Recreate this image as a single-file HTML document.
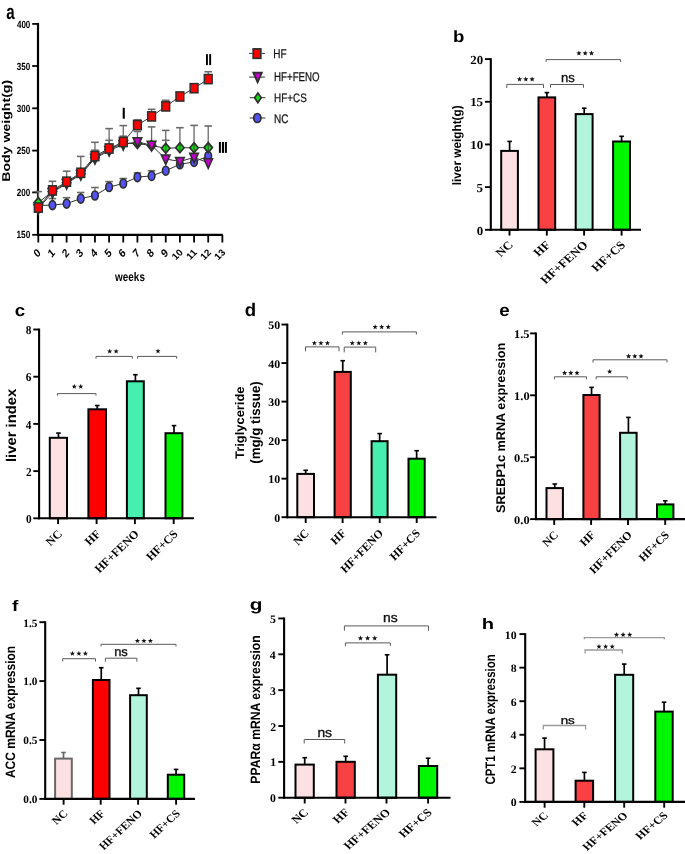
<!DOCTYPE html>
<html><head><meta charset="utf-8"><style>
html,body{margin:0;padding:0;background:#fff;width:685px;height:854px;overflow:hidden;}
svg{display:block;will-change:transform;} text{text-rendering:geometricPrecision;}
</style></head><body>
<svg width="685" height="854" viewBox="0 0 685 854">
<rect width="685" height="854" fill="#fff"/>
<line x1="38" y1="22.9" x2="38" y2="235.8" stroke="#000" stroke-width="2.2"/>
<line x1="37" y1="234.8" x2="222.8" y2="234.8" stroke="#000" stroke-width="2.2"/>
<line x1="32.2" y1="23.9" x2="38" y2="23.9" stroke="#000" stroke-width="1.8"/>
<text transform="translate(16.93 27.5) scale(0.7717 1)" font-family="Liberation Sans" font-size="10.423" font-weight="bold" text-anchor="start" fill="#000">400</text>
<line x1="32.2" y1="66" x2="38" y2="66" stroke="#000" stroke-width="1.8"/>
<text transform="translate(16.85 69.6) scale(0.7766 1)" font-family="Liberation Sans" font-size="10.423" font-weight="bold" text-anchor="start" fill="#000">350</text>
<line x1="32.2" y1="108.3" x2="38" y2="108.3" stroke="#000" stroke-width="1.8"/>
<text transform="translate(16.85 111.9) scale(0.7766 1)" font-family="Liberation Sans" font-size="10.423" font-weight="bold" text-anchor="start" fill="#000">300</text>
<line x1="32.2" y1="150.6" x2="38" y2="150.6" stroke="#000" stroke-width="1.8"/>
<text transform="translate(16.76 154.2) scale(0.7814 1)" font-family="Liberation Sans" font-size="10.423" font-weight="bold" text-anchor="start" fill="#000">250</text>
<line x1="32.2" y1="192.4" x2="38" y2="192.4" stroke="#000" stroke-width="1.8"/>
<text transform="translate(16.76 196) scale(0.7814 1)" font-family="Liberation Sans" font-size="10.423" font-weight="bold" text-anchor="start" fill="#000">200</text>
<line x1="32.2" y1="234.8" x2="38" y2="234.8" stroke="#000" stroke-width="1.8"/>
<text transform="translate(16.51 238.4) scale(0.7965 1)" font-family="Liberation Sans" font-size="10.423" font-weight="bold" text-anchor="start" fill="#000">150</text>
<line x1="38.3" y1="234.8" x2="38.3" y2="242.5" stroke="#000" stroke-width="1.8"/>
<line x1="52.46" y1="234.8" x2="52.46" y2="242.5" stroke="#000" stroke-width="1.8"/>
<line x1="66.62" y1="234.8" x2="66.62" y2="242.5" stroke="#000" stroke-width="1.8"/>
<line x1="80.78" y1="234.8" x2="80.78" y2="242.5" stroke="#000" stroke-width="1.8"/>
<line x1="94.94" y1="234.8" x2="94.94" y2="242.5" stroke="#000" stroke-width="1.8"/>
<line x1="109.1" y1="234.8" x2="109.1" y2="242.5" stroke="#000" stroke-width="1.8"/>
<line x1="123.26" y1="234.8" x2="123.26" y2="242.5" stroke="#000" stroke-width="1.8"/>
<line x1="137.42" y1="234.8" x2="137.42" y2="242.5" stroke="#000" stroke-width="1.8"/>
<line x1="151.58" y1="234.8" x2="151.58" y2="242.5" stroke="#000" stroke-width="1.8"/>
<line x1="165.74" y1="234.8" x2="165.74" y2="242.5" stroke="#000" stroke-width="1.8"/>
<line x1="179.9" y1="234.8" x2="179.9" y2="242.5" stroke="#000" stroke-width="1.8"/>
<line x1="194.06" y1="234.8" x2="194.06" y2="242.5" stroke="#000" stroke-width="1.8"/>
<line x1="208.22" y1="234.8" x2="208.22" y2="242.5" stroke="#000" stroke-width="1.8"/>
<line x1="222.38" y1="234.8" x2="222.38" y2="242.5" stroke="#000" stroke-width="1.8"/>
<text transform="translate(41.41 253.58) scale(0.8158 1) rotate(-45)" font-family="Liberation Sans" font-size="11.942" font-weight="bold" text-anchor="end" fill="#000">0</text>
<text transform="translate(55.57 253.58) scale(0.8158 1) rotate(-45)" font-family="Liberation Sans" font-size="11.942" font-weight="bold" text-anchor="end" fill="#000">1</text>
<text transform="translate(69.73 253.58) scale(0.8158 1) rotate(-45)" font-family="Liberation Sans" font-size="11.942" font-weight="bold" text-anchor="end" fill="#000">2</text>
<text transform="translate(83.89 253.58) scale(0.8158 1) rotate(-45)" font-family="Liberation Sans" font-size="11.942" font-weight="bold" text-anchor="end" fill="#000">3</text>
<text transform="translate(98.05 253.58) scale(0.8158 1) rotate(-45)" font-family="Liberation Sans" font-size="11.942" font-weight="bold" text-anchor="end" fill="#000">4</text>
<text transform="translate(112.21 253.58) scale(0.8158 1) rotate(-45)" font-family="Liberation Sans" font-size="11.942" font-weight="bold" text-anchor="end" fill="#000">5</text>
<text transform="translate(126.37 253.58) scale(0.8158 1) rotate(-45)" font-family="Liberation Sans" font-size="11.942" font-weight="bold" text-anchor="end" fill="#000">6</text>
<text transform="translate(140.53 253.58) scale(0.8158 1) rotate(-45)" font-family="Liberation Sans" font-size="11.942" font-weight="bold" text-anchor="end" fill="#000">7</text>
<text transform="translate(154.69 253.58) scale(0.8158 1) rotate(-45)" font-family="Liberation Sans" font-size="11.942" font-weight="bold" text-anchor="end" fill="#000">8</text>
<text transform="translate(168.85 253.58) scale(0.8158 1) rotate(-45)" font-family="Liberation Sans" font-size="11.942" font-weight="bold" text-anchor="end" fill="#000">9</text>
<text transform="translate(183.53 253.15) scale(1.0417 1) rotate(-45)" font-family="Liberation Sans" font-size="9.428" font-weight="bold" text-anchor="end" fill="#000">10</text>
<text transform="translate(197.69 253.15) scale(1.0417 1) rotate(-45)" font-family="Liberation Sans" font-size="9.428" font-weight="bold" text-anchor="end" fill="#000">11</text>
<text transform="translate(211.85 253.15) scale(1.0417 1) rotate(-45)" font-family="Liberation Sans" font-size="9.428" font-weight="bold" text-anchor="end" fill="#000">12</text>
<text transform="translate(226.01 253.15) scale(1.0417 1) rotate(-45)" font-family="Liberation Sans" font-size="9.428" font-weight="bold" text-anchor="end" fill="#000">13</text>
<text transform="translate(115.1 280.68) scale(0.8022 1)" font-family="Liberation Sans" font-size="12.381" font-weight="bold" text-anchor="start" fill="#000">weeks</text>
<text transform="translate(9.52 181.82) rotate(-90) scale(1.2468 1)" font-family="Liberation Sans" font-size="11.337" font-weight="bold" text-anchor="start" fill="#000">Body weight(g)</text>
<text transform="translate(6.15 18.59) scale(0.7179 1)" font-family="Liberation Sans" font-size="21.091" font-weight="bold" text-anchor="start" fill="#000">a</text>
<rect x="122.7" y="107.8" width="2.1" height="10.9" fill="#000"/>
<rect x="206" y="54.1" width="1.9" height="11" fill="#000"/>
<rect x="209.2" y="54.1" width="1.9" height="11" fill="#000"/>
<rect x="218.9" y="141.9" width="2" height="11" fill="#000"/>
<rect x="221.9" y="141.9" width="2.1" height="11" fill="#000"/>
<rect x="224.9" y="141.9" width="2" height="11" fill="#000"/>
<line x1="165.74" y1="148.2" x2="165.74" y2="130.4" stroke="#6a6a6a" stroke-width="1.3"/>
<line x1="161.94" y1="130.4" x2="169.54" y2="130.4" stroke="#6a6a6a" stroke-width="1.6"/>
<line x1="179.9" y1="147.8" x2="179.9" y2="127.7" stroke="#6a6a6a" stroke-width="1.3"/>
<line x1="176.1" y1="127.7" x2="183.7" y2="127.7" stroke="#6a6a6a" stroke-width="1.6"/>
<line x1="194.06" y1="147.7" x2="194.06" y2="125.4" stroke="#6a6a6a" stroke-width="1.3"/>
<line x1="190.26" y1="125.4" x2="197.86" y2="125.4" stroke="#6a6a6a" stroke-width="1.6"/>
<line x1="208.22" y1="147.6" x2="208.22" y2="126" stroke="#6a6a6a" stroke-width="1.3"/>
<line x1="204.42" y1="126" x2="212.02" y2="126" stroke="#6a6a6a" stroke-width="1.6"/>
<line x1="94.94" y1="158.5" x2="94.94" y2="150.2" stroke="#6a6a6a" stroke-width="1.3"/>
<line x1="91.14" y1="150.2" x2="98.74" y2="150.2" stroke="#6a6a6a" stroke-width="1.6"/>
<line x1="109.1" y1="150.5" x2="109.1" y2="140.3" stroke="#6a6a6a" stroke-width="1.3"/>
<line x1="105.3" y1="140.3" x2="112.9" y2="140.3" stroke="#6a6a6a" stroke-width="1.6"/>
<line x1="123.26" y1="144.5" x2="123.26" y2="136.2" stroke="#6a6a6a" stroke-width="1.3"/>
<line x1="119.46" y1="136.2" x2="127.06" y2="136.2" stroke="#6a6a6a" stroke-width="1.6"/>
<line x1="137.42" y1="141.8" x2="137.42" y2="131.5" stroke="#6a6a6a" stroke-width="1.3"/>
<line x1="133.62" y1="131.5" x2="141.22" y2="131.5" stroke="#6a6a6a" stroke-width="1.6"/>
<line x1="151.58" y1="145.3" x2="151.58" y2="126.9" stroke="#6a6a6a" stroke-width="1.3"/>
<line x1="147.78" y1="126.9" x2="155.38" y2="126.9" stroke="#6a6a6a" stroke-width="1.6"/>
<line x1="165.74" y1="159" x2="165.74" y2="140.3" stroke="#6a6a6a" stroke-width="1.3"/>
<line x1="161.94" y1="140.3" x2="169.54" y2="140.3" stroke="#6a6a6a" stroke-width="1.6"/>
<line x1="52.46" y1="205.1" x2="52.46" y2="198.6" stroke="#6a6a6a" stroke-width="1.3"/>
<line x1="48.66" y1="198.6" x2="56.26" y2="198.6" stroke="#6a6a6a" stroke-width="1.6"/>
<line x1="66.62" y1="203.6" x2="66.62" y2="197.7" stroke="#6a6a6a" stroke-width="1.3"/>
<line x1="62.82" y1="197.7" x2="70.42" y2="197.7" stroke="#6a6a6a" stroke-width="1.6"/>
<line x1="80.78" y1="198.6" x2="80.78" y2="192.5" stroke="#6a6a6a" stroke-width="1.3"/>
<line x1="76.98" y1="192.5" x2="84.58" y2="192.5" stroke="#6a6a6a" stroke-width="1.6"/>
<line x1="94.94" y1="195.5" x2="94.94" y2="187.5" stroke="#6a6a6a" stroke-width="1.3"/>
<line x1="91.14" y1="187.5" x2="98.74" y2="187.5" stroke="#6a6a6a" stroke-width="1.6"/>
<line x1="109.1" y1="187" x2="109.1" y2="181.6" stroke="#6a6a6a" stroke-width="1.3"/>
<line x1="105.3" y1="181.6" x2="112.9" y2="181.6" stroke="#6a6a6a" stroke-width="1.6"/>
<line x1="123.26" y1="183.5" x2="123.26" y2="178.5" stroke="#6a6a6a" stroke-width="1.3"/>
<line x1="119.46" y1="178.5" x2="127.06" y2="178.5" stroke="#6a6a6a" stroke-width="1.6"/>
<line x1="137.42" y1="177.1" x2="137.42" y2="173" stroke="#6a6a6a" stroke-width="1.3"/>
<line x1="133.62" y1="173" x2="141.22" y2="173" stroke="#6a6a6a" stroke-width="1.6"/>
<line x1="151.58" y1="175.9" x2="151.58" y2="170.7" stroke="#6a6a6a" stroke-width="1.3"/>
<line x1="147.78" y1="170.7" x2="155.38" y2="170.7" stroke="#6a6a6a" stroke-width="1.6"/>
<line x1="38.3" y1="207.6" x2="38.3" y2="191.6" stroke="#6a6a6a" stroke-width="1.3"/>
<line x1="34.5" y1="191.6" x2="42.1" y2="191.6" stroke="#6a6a6a" stroke-width="1.6"/>
<line x1="52.46" y1="190.4" x2="52.46" y2="181.3" stroke="#6a6a6a" stroke-width="1.3"/>
<line x1="48.66" y1="181.3" x2="56.26" y2="181.3" stroke="#6a6a6a" stroke-width="1.6"/>
<line x1="66.62" y1="181.7" x2="66.62" y2="171.2" stroke="#6a6a6a" stroke-width="1.3"/>
<line x1="62.82" y1="171.2" x2="70.42" y2="171.2" stroke="#6a6a6a" stroke-width="1.6"/>
<line x1="80.78" y1="172.8" x2="80.78" y2="156.4" stroke="#6a6a6a" stroke-width="1.3"/>
<line x1="76.98" y1="156.4" x2="84.58" y2="156.4" stroke="#6a6a6a" stroke-width="1.6"/>
<line x1="94.94" y1="156.1" x2="94.94" y2="142.3" stroke="#6a6a6a" stroke-width="1.3"/>
<line x1="91.14" y1="142.3" x2="98.74" y2="142.3" stroke="#6a6a6a" stroke-width="1.6"/>
<line x1="109.1" y1="148.5" x2="109.1" y2="128.6" stroke="#6a6a6a" stroke-width="1.3"/>
<line x1="105.3" y1="128.6" x2="112.9" y2="128.6" stroke="#6a6a6a" stroke-width="1.6"/>
<line x1="123.26" y1="142" x2="123.26" y2="125.6" stroke="#6a6a6a" stroke-width="1.3"/>
<line x1="119.46" y1="125.6" x2="127.06" y2="125.6" stroke="#6a6a6a" stroke-width="1.6"/>
<line x1="137.42" y1="125.1" x2="137.42" y2="119.9" stroke="#6a6a6a" stroke-width="1.3"/>
<line x1="133.62" y1="119.9" x2="141.22" y2="119.9" stroke="#6a6a6a" stroke-width="1.6"/>
<line x1="151.58" y1="116.4" x2="151.58" y2="109.3" stroke="#6a6a6a" stroke-width="1.3"/>
<line x1="147.78" y1="109.3" x2="155.38" y2="109.3" stroke="#6a6a6a" stroke-width="1.6"/>
<line x1="165.74" y1="106.4" x2="165.74" y2="100.3" stroke="#6a6a6a" stroke-width="1.3"/>
<line x1="161.94" y1="100.3" x2="169.54" y2="100.3" stroke="#6a6a6a" stroke-width="1.6"/>
<line x1="208.22" y1="79.1" x2="208.22" y2="71.7" stroke="#6a6a6a" stroke-width="1.3"/>
<line x1="204.42" y1="71.7" x2="212.02" y2="71.7" stroke="#6a6a6a" stroke-width="1.6"/>
<polyline points="38.3,205.5 52.46,205.1 66.62,203.6 80.78,198.6 94.94,195.5 109.1,187 123.26,183.5 137.42,177.1 151.58,175.9 165.74,170.7 179.9,164.3 194.06,161.9 208.22,156" fill="none" stroke="#333" stroke-width="1"/>
<ellipse cx="38.3" cy="205.5" rx="3.3" ry="4.5" fill="#5252f5" stroke="#2e2e2e" stroke-width="1.6"/>
<ellipse cx="52.46" cy="205.1" rx="3.3" ry="4.5" fill="#5252f5" stroke="#2e2e2e" stroke-width="1.6"/>
<ellipse cx="66.62" cy="203.6" rx="3.3" ry="4.5" fill="#5252f5" stroke="#2e2e2e" stroke-width="1.6"/>
<ellipse cx="80.78" cy="198.6" rx="3.3" ry="4.5" fill="#5252f5" stroke="#2e2e2e" stroke-width="1.6"/>
<ellipse cx="94.94" cy="195.5" rx="3.3" ry="4.5" fill="#5252f5" stroke="#2e2e2e" stroke-width="1.6"/>
<ellipse cx="109.1" cy="187" rx="3.3" ry="4.5" fill="#5252f5" stroke="#2e2e2e" stroke-width="1.6"/>
<ellipse cx="123.26" cy="183.5" rx="3.3" ry="4.5" fill="#5252f5" stroke="#2e2e2e" stroke-width="1.6"/>
<ellipse cx="137.42" cy="177.1" rx="3.3" ry="4.5" fill="#5252f5" stroke="#2e2e2e" stroke-width="1.6"/>
<ellipse cx="151.58" cy="175.9" rx="3.3" ry="4.5" fill="#5252f5" stroke="#2e2e2e" stroke-width="1.6"/>
<ellipse cx="165.74" cy="170.7" rx="3.3" ry="4.5" fill="#5252f5" stroke="#2e2e2e" stroke-width="1.6"/>
<ellipse cx="179.9" cy="164.3" rx="3.3" ry="4.5" fill="#5252f5" stroke="#2e2e2e" stroke-width="1.6"/>
<ellipse cx="194.06" cy="161.9" rx="3.3" ry="4.5" fill="#5252f5" stroke="#2e2e2e" stroke-width="1.6"/>
<ellipse cx="208.22" cy="156" rx="3.3" ry="4.5" fill="#5252f5" stroke="#2e2e2e" stroke-width="1.6"/>
<polyline points="38.3,202.6 52.46,191.5 66.62,182.8 80.78,173.8 94.94,157.5 109.1,149.6 123.26,143.2 137.42,143.5 151.58,145.6 165.74,148.2 179.9,147.8 194.06,147.7 208.22,147.6" fill="none" stroke="#333" stroke-width="1"/>
<path d="M38.3 197.6L42.5 202.6L38.3 207.6L34.1 202.6Z" fill="#10e010" stroke="#2e2e2e" stroke-width="1.7"/>
<path d="M52.46 186.5L56.66 191.5L52.46 196.5L48.26 191.5Z" fill="#10e010" stroke="#2e2e2e" stroke-width="1.7"/>
<path d="M66.62 177.8L70.82 182.8L66.62 187.8L62.42 182.8Z" fill="#10e010" stroke="#2e2e2e" stroke-width="1.7"/>
<path d="M80.78 168.8L84.98 173.8L80.78 178.8L76.58 173.8Z" fill="#10e010" stroke="#2e2e2e" stroke-width="1.7"/>
<path d="M94.94 152.5L99.14 157.5L94.94 162.5L90.74 157.5Z" fill="#10e010" stroke="#2e2e2e" stroke-width="1.7"/>
<path d="M109.1 144.6L113.3 149.6L109.1 154.6L104.9 149.6Z" fill="#10e010" stroke="#2e2e2e" stroke-width="1.7"/>
<path d="M123.26 138.2L127.46 143.2L123.26 148.2L119.06 143.2Z" fill="#10e010" stroke="#2e2e2e" stroke-width="1.7"/>
<path d="M137.42 138.5L141.62 143.5L137.42 148.5L133.22 143.5Z" fill="#10e010" stroke="#2e2e2e" stroke-width="1.7"/>
<path d="M151.58 140.6L155.78 145.6L151.58 150.6L147.38 145.6Z" fill="#10e010" stroke="#2e2e2e" stroke-width="1.7"/>
<line x1="151.58" y1="142.1" x2="151.58" y2="149.1" stroke="#333" stroke-width="0.9"/>
<path d="M165.74 143.2L169.94 148.2L165.74 153.2L161.54 148.2Z" fill="#10e010" stroke="#2e2e2e" stroke-width="1.7"/>
<line x1="165.74" y1="144.7" x2="165.74" y2="151.7" stroke="#333" stroke-width="0.9"/>
<path d="M179.9 142.8L184.1 147.8L179.9 152.8L175.7 147.8Z" fill="#10e010" stroke="#2e2e2e" stroke-width="1.7"/>
<line x1="179.9" y1="144.3" x2="179.9" y2="151.3" stroke="#333" stroke-width="0.9"/>
<path d="M194.06 142.7L198.26 147.7L194.06 152.7L189.86 147.7Z" fill="#10e010" stroke="#2e2e2e" stroke-width="1.7"/>
<line x1="194.06" y1="144.2" x2="194.06" y2="151.2" stroke="#333" stroke-width="0.9"/>
<path d="M208.22 142.6L212.42 147.6L208.22 152.6L204.02 147.6Z" fill="#10e010" stroke="#2e2e2e" stroke-width="1.7"/>
<line x1="208.22" y1="144.1" x2="208.22" y2="151.1" stroke="#333" stroke-width="0.9"/>
<polyline points="38.3,208.6 52.46,192.5 66.62,183.5 80.78,174.5 94.94,158.5 109.1,150.5 123.26,144.5 137.42,141.8 151.58,145.3 165.74,159 179.9,161.5 194.06,157.4 208.22,162.8" fill="none" stroke="#333" stroke-width="1"/>
<path d="M34 204.6L42.6 204.6L38.3 214.1Z" fill="#c000c8" stroke="#2e2e2e" stroke-width="1.6"/>
<path d="M48.16 188.5L56.76 188.5L52.46 198Z" fill="#c000c8" stroke="#2e2e2e" stroke-width="1.6"/>
<path d="M62.32 179.5L70.92 179.5L66.62 189Z" fill="#c000c8" stroke="#2e2e2e" stroke-width="1.6"/>
<path d="M76.48 170.5L85.08 170.5L80.78 180Z" fill="#c000c8" stroke="#2e2e2e" stroke-width="1.6"/>
<path d="M90.64 154.5L99.24 154.5L94.94 164Z" fill="#c000c8" stroke="#2e2e2e" stroke-width="1.6"/>
<path d="M104.8 146.5L113.4 146.5L109.1 156Z" fill="#c000c8" stroke="#2e2e2e" stroke-width="1.6"/>
<path d="M118.96 140.5L127.56 140.5L123.26 150Z" fill="#c000c8" stroke="#2e2e2e" stroke-width="1.6"/>
<path d="M133.12 137.8L141.72 137.8L137.42 147.3Z" fill="#c000c8" stroke="#2e2e2e" stroke-width="1.6"/>
<path d="M147.28 141.3L155.88 141.3L151.58 150.8Z" fill="#c000c8" stroke="#2e2e2e" stroke-width="1.6"/>
<path d="M161.44 155L170.04 155L165.74 164.5Z" fill="#c000c8" stroke="#2e2e2e" stroke-width="1.6"/>
<path d="M175.6 157.5L184.2 157.5L179.9 167Z" fill="#c000c8" stroke="#2e2e2e" stroke-width="1.6"/>
<path d="M189.76 153.4L198.36 153.4L194.06 162.9Z" fill="#c000c8" stroke="#2e2e2e" stroke-width="1.6"/>
<path d="M203.92 158.8L212.52 158.8L208.22 168.3Z" fill="#c000c8" stroke="#2e2e2e" stroke-width="1.6"/>
<polyline points="38.3,207.6 52.46,190.4 66.62,181.7 80.78,172.8 94.94,156.1 109.1,148.5 123.26,142 137.42,125.1 151.58,116.4 165.74,106.4 179.9,96.5 194.06,88.2 208.22,79.1" fill="none" stroke="#333" stroke-width="1"/>
<rect x="34.4" y="203" width="7.8" height="9.2" fill="#ff0000" stroke="#2e2e2e" stroke-width="1.5"/>
<rect x="48.56" y="185.8" width="7.8" height="9.2" fill="#ff0000" stroke="#2e2e2e" stroke-width="1.5"/>
<rect x="62.72" y="177.1" width="7.8" height="9.2" fill="#ff0000" stroke="#2e2e2e" stroke-width="1.5"/>
<rect x="76.88" y="168.2" width="7.8" height="9.2" fill="#ff0000" stroke="#2e2e2e" stroke-width="1.5"/>
<rect x="91.04" y="151.5" width="7.8" height="9.2" fill="#ff0000" stroke="#2e2e2e" stroke-width="1.5"/>
<rect x="105.2" y="143.9" width="7.8" height="9.2" fill="#ff0000" stroke="#2e2e2e" stroke-width="1.5"/>
<rect x="119.36" y="137.4" width="7.8" height="9.2" fill="#ff0000" stroke="#2e2e2e" stroke-width="1.5"/>
<rect x="133.52" y="120.5" width="7.8" height="9.2" fill="#ff0000" stroke="#2e2e2e" stroke-width="1.5"/>
<rect x="147.68" y="111.8" width="7.8" height="9.2" fill="#ff0000" stroke="#2e2e2e" stroke-width="1.5"/>
<rect x="161.84" y="101.8" width="7.8" height="9.2" fill="#ff0000" stroke="#2e2e2e" stroke-width="1.5"/>
<rect x="176" y="91.9" width="7.8" height="9.2" fill="#ff0000" stroke="#2e2e2e" stroke-width="1.5"/>
<rect x="190.16" y="83.6" width="7.8" height="9.2" fill="#ff0000" stroke="#2e2e2e" stroke-width="1.5"/>
<rect x="204.32" y="74.5" width="7.8" height="9.2" fill="#ff0000" stroke="#2e2e2e" stroke-width="1.5"/>
<rect x="253.2" y="48.9" width="7.6" height="9.4" fill="#ff0000" stroke="#2e2e2e" stroke-width="1.7"/>
<line x1="249.1" y1="53.4" x2="252.6" y2="53.4" stroke="#333" stroke-width="1"/>
<line x1="261.4" y1="53.4" x2="264.9" y2="53.4" stroke="#333" stroke-width="1"/>
<line x1="249.1" y1="77.1" x2="264.9" y2="77.1" stroke="#333" stroke-width="1"/>
<path d="M253.3 72.7L261.9 72.7L257.6 82.4Z" fill="#c000c8" stroke="#2e2e2e" stroke-width="1.7"/>
<line x1="249.7" y1="97.7" x2="265.4" y2="97.7" stroke="#333" stroke-width="1"/>
<path d="M257.9 93L261.2 97.8L257.9 102.8L254.6 97.8Z" fill="#10e010" stroke="#2e2e2e" stroke-width="1.7"/>
<line x1="249.7" y1="118" x2="265.4" y2="118" stroke="#333" stroke-width="1"/>
<ellipse cx="257.3" cy="118" rx="3.6" ry="4.5" fill="#5252f5" stroke="#2e2e2e" stroke-width="1.7"/>
<text transform="translate(273.2 57.8) scale(0.7931 1)" font-family="Liberation Sans" font-size="12.609" font-weight="normal" text-anchor="start" fill="#111" stroke="#111" stroke-width="0.250">HF</text>
<text transform="translate(274.02 81.27) scale(0.7673 1)" font-family="Liberation Sans" font-size="12.676" font-weight="normal" text-anchor="start" fill="#111" stroke="#111" stroke-width="0.250">HF+FENO</text>
<text transform="translate(274.01 101.88) scale(0.8084 1)" font-family="Liberation Sans" font-size="12.254" font-weight="normal" text-anchor="start" fill="#111" stroke="#111" stroke-width="0.250">HF+CS</text>
<text transform="translate(274 122.67) scale(0.7978 1)" font-family="Liberation Sans" font-size="12.535" font-weight="normal" text-anchor="start" fill="#111" stroke="#111" stroke-width="0.250">NC</text>
<line x1="509.6" y1="150.7" x2="509.6" y2="141.1" stroke="#000" stroke-width="1.7"/>
<line x1="507.3" y1="141.4" x2="511.9" y2="141.4" stroke="#000" stroke-width="1.6"/>
<rect x="501.2" y="150.9" width="16.7" height="78.9" fill="#fde0e1" stroke="#000" stroke-width="2"/>
<line x1="546.9" y1="97.2" x2="546.9" y2="92.3" stroke="#000" stroke-width="1.7"/>
<line x1="544.6" y1="92.6" x2="549.2" y2="92.6" stroke="#000" stroke-width="1.6"/>
<rect x="538.5" y="97.4" width="16.7" height="132.4" fill="#f94143" stroke="#000" stroke-width="2"/>
<line x1="584.2" y1="113.9" x2="584.2" y2="107.9" stroke="#000" stroke-width="1.7"/>
<line x1="581.9" y1="108.2" x2="586.5" y2="108.2" stroke="#000" stroke-width="1.6"/>
<rect x="575.7" y="114.1" width="16.9" height="115.7" fill="#b3f5dc" stroke="#000" stroke-width="2"/>
<line x1="621.6" y1="141.3" x2="621.6" y2="136" stroke="#000" stroke-width="1.7"/>
<line x1="619.3" y1="136.3" x2="623.9" y2="136.3" stroke="#000" stroke-width="1.6"/>
<rect x="613.1" y="141.5" width="16.9" height="88.3" fill="#00f500" stroke="#000" stroke-width="2"/>
<line x1="490.8" y1="58.2" x2="490.8" y2="230.8" stroke="#000" stroke-width="2.1"/>
<line x1="489.8" y1="229.8" x2="641" y2="229.8" stroke="#000" stroke-width="2.1"/>
<line x1="485" y1="229.8" x2="490.8" y2="229.8" stroke="#000" stroke-width="1.9"/>
<text transform="translate(476.67 234.53) scale(1.0488 1)" font-family="Liberation Serif" font-size="12.300" font-weight="bold" text-anchor="start" fill="#000">0</text>
<line x1="485" y1="187.12" x2="490.8" y2="187.12" stroke="#000" stroke-width="1.9"/>
<text transform="translate(476.6 191.79) scale(1.0488 1)" font-family="Liberation Serif" font-size="12.300" font-weight="bold" text-anchor="start" fill="#000">5</text>
<line x1="485" y1="144.45" x2="490.8" y2="144.45" stroke="#000" stroke-width="1.9"/>
<text transform="translate(470.22 149.18) scale(1.0488 1)" font-family="Liberation Serif" font-size="12.300" font-weight="bold" text-anchor="start" fill="#000">10</text>
<line x1="485" y1="101.78" x2="490.8" y2="101.78" stroke="#000" stroke-width="1.9"/>
<text transform="translate(470.15 106.47) scale(1.0488 1)" font-family="Liberation Serif" font-size="12.300" font-weight="bold" text-anchor="start" fill="#000">15</text>
<line x1="485" y1="59.1" x2="490.8" y2="59.1" stroke="#000" stroke-width="1.9"/>
<text transform="translate(470.22 63.83) scale(1.0488 1)" font-family="Liberation Serif" font-size="12.300" font-weight="bold" text-anchor="start" fill="#000">20</text>
<line x1="509.5" y1="229.8" x2="509.5" y2="235.6" stroke="#000" stroke-width="1.9"/>
<text transform="translate(513.93 245.69) scale(1.1127 1) rotate(-45)" font-family="Liberation Serif" font-size="11.577" font-weight="bold" text-anchor="end" fill="#000">NC</text>
<line x1="546.8" y1="229.8" x2="546.8" y2="235.6" stroke="#000" stroke-width="1.9"/>
<text transform="translate(551.23 245.69) scale(1.1127 1) rotate(-45)" font-family="Liberation Serif" font-size="11.577" font-weight="bold" text-anchor="end" fill="#000">HF</text>
<line x1="584.1" y1="229.8" x2="584.1" y2="235.6" stroke="#000" stroke-width="1.9"/>
<text transform="translate(588.53 245.69) scale(1.1127 1) rotate(-45)" font-family="Liberation Serif" font-size="11.577" font-weight="bold" text-anchor="end" fill="#000">HF+FENO</text>
<line x1="621.6" y1="229.8" x2="621.6" y2="235.6" stroke="#000" stroke-width="1.9"/>
<text transform="translate(626.03 245.69) scale(1.1127 1) rotate(-45)" font-family="Liberation Serif" font-size="11.577" font-weight="bold" text-anchor="end" fill="#000">HF+CS</text>
<path d="M506.8 88V84.4H543.5V88" fill="none" stroke="#5a5a5a" stroke-width="1"/>
<path d="M550.5 87.7V84.5H583.5V87.7" fill="none" stroke="#5a5a5a" stroke-width="1"/>
<path d="M546.1 62V59.6H620.6V62" fill="none" stroke="#5a5a5a" stroke-width="1"/>
<polygon points="519.5,76.55 520.18,78.37 522.12,78.45 520.59,79.66 521.12,81.52 519.5,80.45 517.88,81.52 518.41,79.66 516.88,78.45 518.82,78.37" fill="#111"/>
<polygon points="525.8,76.55 526.48,78.37 528.42,78.45 526.89,79.66 527.42,81.52 525.8,80.45 524.18,81.52 524.71,79.66 523.18,78.45 525.12,78.37" fill="#111"/>
<polygon points="532.1,76.55 532.78,78.37 534.72,78.45 533.19,79.66 533.72,81.52 532.1,80.45 530.48,81.52 531.01,79.66 529.48,78.45 531.42,78.37" fill="#111"/>
<polygon points="578.9,50.55 579.58,52.37 581.52,52.45 579.99,53.66 580.52,55.52 578.9,54.45 577.28,55.52 577.81,53.66 576.28,52.45 578.22,52.37" fill="#111"/>
<polygon points="585.2,50.55 585.88,52.37 587.82,52.45 586.29,53.66 586.82,55.52 585.2,54.45 583.58,55.52 584.11,53.66 582.58,52.45 584.52,52.37" fill="#111"/>
<polygon points="591.5,50.55 592.18,52.37 594.12,52.45 592.59,53.66 593.12,55.52 591.5,54.45 589.88,55.52 590.41,53.66 588.88,52.45 590.82,52.37" fill="#111"/>
<text transform="translate(560.95 81.67)" font-family="Liberation Sans" font-size="13.091" font-weight="normal" text-anchor="start" fill="#111" stroke="#111" stroke-width="0.350">ns</text>
<text transform="translate(461.22 185.23) rotate(-90) scale(0.9595 1)" font-family="Liberation Sans" font-size="12.299" font-weight="bold" text-anchor="start" fill="#000">liver weight(g)</text>
<text transform="translate(453.09 42.24) scale(1.1497 1)" font-family="Liberation Sans" font-size="16.190" font-weight="bold" text-anchor="start" fill="#000">b</text>
<line x1="58.45" y1="437.6" x2="58.45" y2="432.8" stroke="#000" stroke-width="1.7"/>
<line x1="56.15" y1="433.1" x2="60.75" y2="433.1" stroke="#000" stroke-width="1.6"/>
<rect x="49.8" y="437.8" width="17.2" height="80.5" fill="#fde0e1" stroke="#000" stroke-width="2"/>
<line x1="97.25" y1="409.1" x2="97.25" y2="405.2" stroke="#000" stroke-width="1.7"/>
<line x1="94.95" y1="405.5" x2="99.55" y2="405.5" stroke="#000" stroke-width="1.6"/>
<rect x="88.4" y="409.3" width="17.6" height="109" fill="#ff0000" stroke="#000" stroke-width="2"/>
<line x1="135.4" y1="381.1" x2="135.4" y2="374.4" stroke="#000" stroke-width="1.7"/>
<line x1="133.1" y1="374.7" x2="137.7" y2="374.7" stroke="#000" stroke-width="1.6"/>
<rect x="126.9" y="381.3" width="16.9" height="137" fill="#46efb0" stroke="#000" stroke-width="2"/>
<line x1="174" y1="433" x2="174" y2="425.3" stroke="#000" stroke-width="1.7"/>
<line x1="171.7" y1="425.6" x2="176.3" y2="425.6" stroke="#000" stroke-width="1.6"/>
<rect x="165.5" y="433.2" width="16.9" height="85.1" fill="#00f500" stroke="#000" stroke-width="2"/>
<line x1="39.1" y1="328.6" x2="39.1" y2="519.3" stroke="#000" stroke-width="2.1"/>
<line x1="38.1" y1="518.3" x2="194" y2="518.3" stroke="#000" stroke-width="2.1"/>
<line x1="33.3" y1="518.3" x2="39.1" y2="518.3" stroke="#000" stroke-width="1.9"/>
<text transform="translate(25.9 522.96) scale(0.9339 1)" font-family="Liberation Serif" font-size="12.100" font-weight="bold" text-anchor="start" fill="#000">0</text>
<line x1="33.3" y1="471.1" x2="39.1" y2="471.1" stroke="#000" stroke-width="1.9"/>
<text transform="translate(25.96 475.79) scale(0.9339 1)" font-family="Liberation Serif" font-size="12.100" font-weight="bold" text-anchor="start" fill="#000">2</text>
<line x1="33.3" y1="423.9" x2="39.1" y2="423.9" stroke="#000" stroke-width="1.9"/>
<text transform="translate(25.68 428.59) scale(0.9339 1)" font-family="Liberation Serif" font-size="12.100" font-weight="bold" text-anchor="start" fill="#000">4</text>
<line x1="33.3" y1="376.7" x2="39.1" y2="376.7" stroke="#000" stroke-width="1.9"/>
<text transform="translate(25.79 381.33) scale(0.9339 1)" font-family="Liberation Serif" font-size="12.100" font-weight="bold" text-anchor="start" fill="#000">6</text>
<line x1="33.3" y1="329.5" x2="39.1" y2="329.5" stroke="#000" stroke-width="1.9"/>
<text transform="translate(25.85 334.16) scale(0.9339 1)" font-family="Liberation Serif" font-size="12.100" font-weight="bold" text-anchor="start" fill="#000">8</text>
<line x1="58.1" y1="518.3" x2="58.1" y2="524.1" stroke="#000" stroke-width="1.9"/>
<text transform="translate(62.9 534.7) scale(1.0368 1) rotate(-45)" font-family="Liberation Serif" font-size="11.605" font-weight="bold" text-anchor="end" fill="#000">NC</text>
<line x1="96.6" y1="518.3" x2="96.6" y2="524.1" stroke="#000" stroke-width="1.9"/>
<text transform="translate(101.4 534.7) scale(1.0368 1) rotate(-45)" font-family="Liberation Serif" font-size="11.605" font-weight="bold" text-anchor="end" fill="#000">HF</text>
<line x1="134.9" y1="518.3" x2="134.9" y2="524.1" stroke="#000" stroke-width="1.9"/>
<text transform="translate(139.7 534.7) scale(1.0368 1) rotate(-45)" font-family="Liberation Serif" font-size="11.605" font-weight="bold" text-anchor="end" fill="#000">HF+FENO</text>
<line x1="173.7" y1="518.3" x2="173.7" y2="524.1" stroke="#000" stroke-width="1.9"/>
<text transform="translate(178.5 534.7) scale(1.0368 1) rotate(-45)" font-family="Liberation Serif" font-size="11.605" font-weight="bold" text-anchor="end" fill="#000">HF+CS</text>
<path d="M57.5 395.6V393.6H96V395.6" fill="none" stroke="#5a5a5a" stroke-width="1"/>
<path d="M96 358.7V356.4H132.3V358.7" fill="none" stroke="#5a5a5a" stroke-width="1"/>
<path d="M137.6 358.7V356.4H176.7V358.7" fill="none" stroke="#5a5a5a" stroke-width="1"/>
<polygon points="74.3,383.85 74.98,385.67 76.92,385.75 75.39,386.96 75.92,388.82 74.3,387.75 72.68,388.82 73.21,386.96 71.68,385.75 73.62,385.67" fill="#111"/>
<polygon points="80.7,383.85 81.38,385.67 83.32,385.75 81.79,386.96 82.32,388.82 80.7,387.75 79.08,388.82 79.61,386.96 78.08,385.75 80.02,385.67" fill="#111"/>
<polygon points="109.7,348.65 110.38,350.47 112.32,350.55 110.79,351.76 111.32,353.62 109.7,352.55 108.08,353.62 108.61,351.76 107.08,350.55 109.02,350.47" fill="#111"/>
<polygon points="116.1,348.65 116.78,350.47 118.72,350.55 117.19,351.76 117.72,353.62 116.1,352.55 114.48,353.62 115.01,351.76 113.48,350.55 115.42,350.47" fill="#111"/>
<polygon points="158,348.45 158.68,350.27 160.62,350.35 159.09,351.56 159.62,353.42 158,352.35 156.38,353.42 156.91,351.56 155.38,350.35 157.32,350.27" fill="#111"/>
<text transform="translate(15.96 462.04) rotate(-90) scale(1.0474 1)" font-family="Liberation Sans" font-size="14.150" font-weight="bold" text-anchor="start" fill="#000">liver index</text>
<text transform="translate(14.65 315.73) scale(1.1096 1)" font-family="Liberation Sans" font-size="16.909" font-weight="bold" text-anchor="start" fill="#000">c</text>
<line x1="305.7" y1="473.7" x2="305.7" y2="470" stroke="#000" stroke-width="1.7"/>
<line x1="303.4" y1="470.3" x2="308" y2="470.3" stroke="#000" stroke-width="1.6"/>
<rect x="297.3" y="473.9" width="16.7" height="43.3" fill="#fde0e1" stroke="#000" stroke-width="2"/>
<line x1="342.75" y1="371.7" x2="342.75" y2="360.4" stroke="#000" stroke-width="1.7"/>
<line x1="340.45" y1="360.7" x2="345.05" y2="360.7" stroke="#000" stroke-width="1.6"/>
<rect x="334.6" y="371.9" width="16.2" height="145.3" fill="#f94143" stroke="#000" stroke-width="2"/>
<line x1="379.65" y1="441" x2="379.65" y2="433.3" stroke="#000" stroke-width="1.7"/>
<line x1="377.35" y1="433.6" x2="381.95" y2="433.6" stroke="#000" stroke-width="1.6"/>
<rect x="371.6" y="441.2" width="16" height="76" fill="#46efb0" stroke="#000" stroke-width="2"/>
<line x1="416.65" y1="458.5" x2="416.65" y2="450.4" stroke="#000" stroke-width="1.7"/>
<line x1="414.35" y1="450.7" x2="418.95" y2="450.7" stroke="#000" stroke-width="1.6"/>
<rect x="408.5" y="458.7" width="16.2" height="58.5" fill="#00f500" stroke="#000" stroke-width="2"/>
<line x1="287.3" y1="323.65" x2="287.3" y2="518.2" stroke="#000" stroke-width="2.1"/>
<line x1="286.3" y1="517.2" x2="436.5" y2="517.2" stroke="#000" stroke-width="2.1"/>
<line x1="281.5" y1="517.2" x2="287.3" y2="517.2" stroke="#000" stroke-width="1.9"/>
<text transform="translate(274.13 521.7) scale(1.0259 1)" font-family="Liberation Serif" font-size="11.600" font-weight="bold" text-anchor="start" fill="#000">0</text>
<line x1="281.5" y1="478.67" x2="287.3" y2="478.67" stroke="#000" stroke-width="1.9"/>
<text transform="translate(268.18 483.17) scale(1.0259 1)" font-family="Liberation Serif" font-size="11.600" font-weight="bold" text-anchor="start" fill="#000">10</text>
<line x1="281.5" y1="440.14" x2="287.3" y2="440.14" stroke="#000" stroke-width="1.9"/>
<text transform="translate(268.18 444.64) scale(1.0259 1)" font-family="Liberation Serif" font-size="11.600" font-weight="bold" text-anchor="start" fill="#000">20</text>
<line x1="281.5" y1="401.61" x2="287.3" y2="401.61" stroke="#000" stroke-width="1.9"/>
<text transform="translate(268.18 406.11) scale(1.0259 1)" font-family="Liberation Serif" font-size="11.600" font-weight="bold" text-anchor="start" fill="#000">30</text>
<line x1="281.5" y1="363.08" x2="287.3" y2="363.08" stroke="#000" stroke-width="1.9"/>
<text transform="translate(268.18 367.58) scale(1.0259 1)" font-family="Liberation Serif" font-size="11.600" font-weight="bold" text-anchor="start" fill="#000">40</text>
<line x1="281.5" y1="324.55" x2="287.3" y2="324.55" stroke="#000" stroke-width="1.9"/>
<text transform="translate(268.18 329.05) scale(1.0259 1)" font-family="Liberation Serif" font-size="11.600" font-weight="bold" text-anchor="start" fill="#000">50</text>
<line x1="305.7" y1="517.2" x2="305.7" y2="523" stroke="#000" stroke-width="1.9"/>
<text transform="translate(309.72 533.9) scale(0.9623 1) rotate(-45)" font-family="Liberation Serif" font-size="11.934" font-weight="bold" text-anchor="end" fill="#000">NC</text>
<line x1="342.6" y1="517.2" x2="342.6" y2="523" stroke="#000" stroke-width="1.9"/>
<text transform="translate(346.62 533.9) scale(0.9623 1) rotate(-45)" font-family="Liberation Serif" font-size="11.934" font-weight="bold" text-anchor="end" fill="#000">HF</text>
<line x1="379.7" y1="517.2" x2="379.7" y2="523" stroke="#000" stroke-width="1.9"/>
<text transform="translate(383.72 533.9) scale(0.9623 1) rotate(-45)" font-family="Liberation Serif" font-size="11.934" font-weight="bold" text-anchor="end" fill="#000">HF+FENO</text>
<line x1="416.7" y1="517.2" x2="416.7" y2="523" stroke="#000" stroke-width="1.9"/>
<text transform="translate(420.72 533.9) scale(0.9623 1) rotate(-45)" font-family="Liberation Serif" font-size="11.934" font-weight="bold" text-anchor="end" fill="#000">HF+CS</text>
<path d="M305.5 351.3V346.9H339V351.3" fill="none" stroke="#5a5a5a" stroke-width="1"/>
<path d="M344.2 352.4V347.1H375.7V352.4" fill="none" stroke="#5a5a5a" stroke-width="1"/>
<path d="M342.4 334.5V331.9H416.4V334.5" fill="none" stroke="#5a5a5a" stroke-width="1"/>
<polygon points="314.35,340.45 315.03,342.27 316.97,342.35 315.44,343.56 315.97,345.42 314.35,344.35 312.73,345.42 313.26,343.56 311.73,342.35 313.67,342.27" fill="#111"/>
<polygon points="320.9,340.45 321.58,342.27 323.52,342.35 321.99,343.56 322.52,345.42 320.9,344.35 319.28,345.42 319.81,343.56 318.28,342.35 320.22,342.27" fill="#111"/>
<polygon points="327.45,340.45 328.13,342.27 330.07,342.35 328.54,343.56 329.07,345.42 327.45,344.35 325.83,345.42 326.36,343.56 324.83,342.35 326.77,342.27" fill="#111"/>
<polygon points="352.25,340.45 352.93,342.27 354.87,342.35 353.34,343.56 353.87,345.42 352.25,344.35 350.63,345.42 351.16,343.56 349.63,342.35 351.57,342.27" fill="#111"/>
<polygon points="358.8,340.45 359.48,342.27 361.42,342.35 359.89,343.56 360.42,345.42 358.8,344.35 357.18,345.42 357.71,343.56 356.18,342.35 358.12,342.27" fill="#111"/>
<polygon points="365.35,340.45 366.03,342.27 367.97,342.35 366.44,343.56 366.97,345.42 365.35,344.35 363.73,345.42 364.26,343.56 362.73,342.35 364.67,342.27" fill="#111"/>
<polygon points="375.15,324.25 375.83,326.07 377.77,326.15 376.24,327.36 376.77,329.22 375.15,328.15 373.53,329.22 374.06,327.36 372.53,326.15 374.47,326.07" fill="#111"/>
<polygon points="381.7,324.25 382.38,326.07 384.32,326.15 382.79,327.36 383.32,329.22 381.7,328.15 380.08,329.22 380.61,327.36 379.08,326.15 381.02,326.07" fill="#111"/>
<polygon points="388.25,324.25 388.93,326.07 390.87,326.15 389.34,327.36 389.87,329.22 388.25,328.15 386.63,329.22 387.16,327.36 385.63,326.15 387.57,326.07" fill="#111"/>
<text transform="translate(243.99 458.93) rotate(-90) scale(1.0405 1)" font-family="Liberation Sans" font-size="12.406" font-weight="bold" text-anchor="start" fill="#000">Triglyceride</text>
<text transform="translate(260.13 463.66) rotate(-90) scale(0.9672 1)" font-family="Liberation Sans" font-size="13.690" font-weight="bold" text-anchor="start" fill="#000">(mg/g tissue)</text>
<text transform="translate(244.76 315.52) scale(1.0210 1)" font-family="Liberation Sans" font-size="18.231" font-weight="bold" text-anchor="start" fill="#000">d</text>
<line x1="554.75" y1="487.9" x2="554.75" y2="483.7" stroke="#000" stroke-width="1.7"/>
<line x1="552.45" y1="484" x2="557.05" y2="484" stroke="#000" stroke-width="1.6"/>
<rect x="546.5" y="488.1" width="16.4" height="31" fill="#fde0e1" stroke="#000" stroke-width="2"/>
<line x1="591.55" y1="394.8" x2="591.55" y2="387.1" stroke="#000" stroke-width="1.7"/>
<line x1="589.25" y1="387.4" x2="593.85" y2="387.4" stroke="#000" stroke-width="1.6"/>
<rect x="583.4" y="395" width="16.2" height="124.1" fill="#f94143" stroke="#000" stroke-width="2"/>
<line x1="628.4" y1="432.6" x2="628.4" y2="417.1" stroke="#000" stroke-width="1.7"/>
<line x1="626.1" y1="417.4" x2="630.7" y2="417.4" stroke="#000" stroke-width="1.6"/>
<rect x="620.1" y="432.8" width="16.5" height="86.3" fill="#b3f5dc" stroke="#000" stroke-width="2"/>
<line x1="665.25" y1="504.2" x2="665.25" y2="500.5" stroke="#000" stroke-width="1.7"/>
<line x1="662.95" y1="500.8" x2="667.55" y2="500.8" stroke="#000" stroke-width="1.6"/>
<rect x="657" y="504.4" width="16.4" height="14.7" fill="#00f500" stroke="#000" stroke-width="2"/>
<line x1="535.9" y1="332.5" x2="535.9" y2="520.1" stroke="#000" stroke-width="2.1"/>
<line x1="534.9" y1="519.1" x2="685" y2="519.1" stroke="#000" stroke-width="2.1"/>
<line x1="530.1" y1="519.1" x2="535.9" y2="519.1" stroke="#000" stroke-width="1.9"/>
<text transform="translate(514.1 523.64) scale(1.0508 1)" font-family="Liberation Serif" font-size="11.800" font-weight="bold" text-anchor="start" fill="#000">0.0</text>
<line x1="530.1" y1="457.2" x2="535.9" y2="457.2" stroke="#000" stroke-width="1.9"/>
<text transform="translate(514.03 461.74) scale(1.0508 1)" font-family="Liberation Serif" font-size="11.800" font-weight="bold" text-anchor="start" fill="#000">0.5</text>
<line x1="530.1" y1="395.3" x2="535.9" y2="395.3" stroke="#000" stroke-width="1.9"/>
<text transform="translate(514.1 399.83) scale(1.0508 1)" font-family="Liberation Serif" font-size="11.800" font-weight="bold" text-anchor="start" fill="#000">1.0</text>
<line x1="530.1" y1="333.4" x2="535.9" y2="333.4" stroke="#000" stroke-width="1.9"/>
<text transform="translate(514.03 337.91) scale(1.0508 1)" font-family="Liberation Serif" font-size="11.800" font-weight="bold" text-anchor="start" fill="#000">1.5</text>
<line x1="554.2" y1="519.1" x2="554.2" y2="524.9" stroke="#000" stroke-width="1.9"/>
<text transform="translate(558.82 535.6) scale(0.9943 1) rotate(-45)" font-family="Liberation Serif" font-size="11.605" font-weight="bold" text-anchor="end" fill="#000">NC</text>
<line x1="591.1" y1="519.1" x2="591.1" y2="524.9" stroke="#000" stroke-width="1.9"/>
<text transform="translate(595.72 535.6) scale(0.9943 1) rotate(-45)" font-family="Liberation Serif" font-size="11.605" font-weight="bold" text-anchor="end" fill="#000">HF</text>
<line x1="628" y1="519.1" x2="628" y2="524.9" stroke="#000" stroke-width="1.9"/>
<text transform="translate(632.62 535.6) scale(0.9943 1) rotate(-45)" font-family="Liberation Serif" font-size="11.605" font-weight="bold" text-anchor="end" fill="#000">HF+FENO</text>
<line x1="665.2" y1="519.1" x2="665.2" y2="524.9" stroke="#000" stroke-width="1.9"/>
<text transform="translate(669.82 535.6) scale(0.9943 1) rotate(-45)" font-family="Liberation Serif" font-size="11.605" font-weight="bold" text-anchor="end" fill="#000">HF+CS</text>
<path d="M554.4 379.3V376.8H586.5V379.3" fill="none" stroke="#5a5a5a" stroke-width="1"/>
<path d="M596.1 379.3V376.8H627.2V379.3" fill="none" stroke="#5a5a5a" stroke-width="1"/>
<path d="M593 362.5V359.8H667V362.5" fill="none" stroke="#5a5a5a" stroke-width="1"/>
<polygon points="564.6,370.25 565.28,372.07 567.22,372.15 565.69,373.36 566.22,375.22 564.6,374.15 562.98,375.22 563.51,373.36 561.98,372.15 563.92,372.07" fill="#111"/>
<polygon points="570.8,370.25 571.48,372.07 573.42,372.15 571.89,373.36 572.42,375.22 570.8,374.15 569.18,375.22 569.71,373.36 568.18,372.15 570.12,372.07" fill="#111"/>
<polygon points="577,370.25 577.68,372.07 579.62,372.15 578.09,373.36 578.62,375.22 577,374.15 575.38,375.22 575.91,373.36 574.38,372.15 576.32,372.07" fill="#111"/>
<polygon points="609.6,368.85 610.28,370.67 612.22,370.75 610.69,371.96 611.22,373.82 609.6,372.75 607.98,373.82 608.51,371.96 606.98,370.75 608.92,370.67" fill="#111"/>
<polygon points="628.6,353.55 629.28,355.37 631.22,355.45 629.69,356.66 630.22,358.52 628.6,357.45 626.98,358.52 627.51,356.66 625.98,355.45 627.92,355.37" fill="#111"/>
<polygon points="634.8,353.55 635.48,355.37 637.42,355.45 635.89,356.66 636.42,358.52 634.8,357.45 633.18,358.52 633.71,356.66 632.18,355.45 634.12,355.37" fill="#111"/>
<polygon points="641,353.55 641.68,355.37 643.62,355.45 642.09,356.66 642.62,358.52 641,357.45 639.38,358.52 639.91,356.66 638.38,355.45 640.32,355.37" fill="#111"/>
<text transform="translate(505.15 512.88) rotate(-90) scale(1.0065 1)" font-family="Liberation Sans" font-size="12.620" font-weight="bold" text-anchor="start" fill="#000">SREBP1c mRNA expression</text>
<text transform="translate(499.25 315.83) scale(1.0971 1)" font-family="Liberation Sans" font-size="17.091" font-weight="bold" text-anchor="start" fill="#000">e</text>
<line x1="63.5" y1="758.4" x2="63.5" y2="752.2" stroke="#686868" stroke-width="1.7"/>
<line x1="61.2" y1="752.5" x2="65.8" y2="752.5" stroke="#686868" stroke-width="1.6"/>
<rect x="55.1" y="758.6" width="16.7" height="40.3" fill="#fde0e1" stroke="#686868" stroke-width="2"/>
<line x1="101.25" y1="679.8" x2="101.25" y2="667.4" stroke="#000" stroke-width="1.7"/>
<line x1="98.95" y1="667.7" x2="103.55" y2="667.7" stroke="#000" stroke-width="1.6"/>
<rect x="92.9" y="680" width="16.6" height="118.9" fill="#ff0000" stroke="#000" stroke-width="2"/>
<line x1="138.5" y1="695" x2="138.5" y2="688" stroke="#000" stroke-width="1.7"/>
<line x1="136.2" y1="688.3" x2="140.8" y2="688.3" stroke="#000" stroke-width="1.6"/>
<rect x="130.1" y="695.2" width="16.7" height="103.7" fill="#b3f5dc" stroke="#000" stroke-width="2"/>
<line x1="176.05" y1="774.5" x2="176.05" y2="769.1" stroke="#000" stroke-width="1.7"/>
<line x1="173.75" y1="769.4" x2="178.35" y2="769.4" stroke="#000" stroke-width="1.6"/>
<rect x="167.8" y="774.7" width="16.4" height="24.2" fill="#00f500" stroke="#000" stroke-width="2"/>
<line x1="45.2" y1="621.3" x2="45.2" y2="799.9" stroke="#000" stroke-width="2.1"/>
<line x1="44.2" y1="798.9" x2="195" y2="798.9" stroke="#000" stroke-width="2.1"/>
<line x1="39.4" y1="798.9" x2="45.2" y2="798.9" stroke="#000" stroke-width="1.9"/>
<text transform="translate(23.33 803.24) scale(1.0089 1)" font-family="Liberation Serif" font-size="11.200" font-weight="bold" text-anchor="start" fill="#000">0.0</text>
<line x1="39.4" y1="740" x2="45.2" y2="740" stroke="#000" stroke-width="1.9"/>
<text transform="translate(23.27 744.34) scale(1.0089 1)" font-family="Liberation Serif" font-size="11.200" font-weight="bold" text-anchor="start" fill="#000">0.5</text>
<line x1="39.4" y1="681.1" x2="45.2" y2="681.1" stroke="#000" stroke-width="1.9"/>
<text transform="translate(23.33 685.44) scale(1.0089 1)" font-family="Liberation Serif" font-size="11.200" font-weight="bold" text-anchor="start" fill="#000">1.0</text>
<line x1="39.4" y1="622.2" x2="45.2" y2="622.2" stroke="#000" stroke-width="1.9"/>
<text transform="translate(23.27 626.51) scale(1.0089 1)" font-family="Liberation Serif" font-size="11.200" font-weight="bold" text-anchor="start" fill="#000">1.5</text>
<line x1="63.6" y1="798.9" x2="63.6" y2="804.7" stroke="#000" stroke-width="1.9"/>
<text transform="translate(68.35 814.18) scale(1.0720 1) rotate(-45)" font-family="Liberation Serif" font-size="10.891" font-weight="bold" text-anchor="end" fill="#000">NC</text>
<line x1="100.7" y1="798.9" x2="100.7" y2="804.7" stroke="#000" stroke-width="1.9"/>
<text transform="translate(105.45 814.18) scale(1.0720 1) rotate(-45)" font-family="Liberation Serif" font-size="10.891" font-weight="bold" text-anchor="end" fill="#000">HF</text>
<line x1="138.1" y1="798.9" x2="138.1" y2="804.7" stroke="#000" stroke-width="1.9"/>
<text transform="translate(142.85 814.18) scale(1.0720 1) rotate(-45)" font-family="Liberation Serif" font-size="10.891" font-weight="bold" text-anchor="end" fill="#000">HF+FENO</text>
<line x1="176.1" y1="798.9" x2="176.1" y2="804.7" stroke="#000" stroke-width="1.9"/>
<text transform="translate(180.85 814.18) scale(1.0720 1) rotate(-45)" font-family="Liberation Serif" font-size="10.891" font-weight="bold" text-anchor="end" fill="#000">HF+CS</text>
<path d="M62.7 661.5V658.7H95.5V661.5" fill="none" stroke="#5a5a5a" stroke-width="1"/>
<path d="M105.4 661.7V658.2H136.9V661.7" fill="none" stroke="#5a5a5a" stroke-width="1"/>
<path d="M101 646.4V644.3H176V646.4" fill="none" stroke="#5a5a5a" stroke-width="1"/>
<polygon points="72.4,650.85 73.08,652.67 75.02,652.75 73.49,653.96 74.02,655.82 72.4,654.75 70.78,655.82 71.31,653.96 69.78,652.75 71.72,652.67" fill="#111"/>
<polygon points="78.9,650.85 79.58,652.67 81.52,652.75 79.99,653.96 80.52,655.82 78.9,654.75 77.28,655.82 77.81,653.96 76.28,652.75 78.22,652.67" fill="#111"/>
<polygon points="85.4,650.85 86.08,652.67 88.02,652.75 86.49,653.96 87.02,655.82 85.4,654.75 83.78,655.82 84.31,653.96 82.78,652.75 84.72,652.67" fill="#111"/>
<polygon points="137.4,638.15 138.08,639.97 140.02,640.05 138.49,641.26 139.02,643.12 137.4,642.05 135.78,643.12 136.31,641.26 134.78,640.05 136.72,639.97" fill="#111"/>
<polygon points="143.9,638.15 144.58,639.97 146.52,640.05 144.99,641.26 145.52,643.12 143.9,642.05 142.28,643.12 142.81,641.26 141.28,640.05 143.22,639.97" fill="#111"/>
<polygon points="150.4,638.15 151.08,639.97 153.02,640.05 151.49,641.26 152.02,643.12 150.4,642.05 148.78,643.12 149.31,641.26 147.78,640.05 149.72,639.97" fill="#111"/>
<text transform="translate(114.16 655.77) scale(1.0120 1)" font-family="Liberation Sans" font-size="12.727" font-weight="normal" text-anchor="start" fill="#111" stroke="#111" stroke-width="0.350">ns</text>
<text transform="translate(14.75 778.1) rotate(-90) scale(0.8840 1)" font-family="Liberation Sans" font-size="13.583" font-weight="bold" text-anchor="start" fill="#000">ACC mRNA expression</text>
<text transform="translate(12.01 610.7) scale(1.2451 1)" font-family="Liberation Sans" font-size="15.310" font-weight="bold" text-anchor="start" fill="#000">f</text>
<line x1="304.7" y1="764.4" x2="304.7" y2="757.4" stroke="#000" stroke-width="1.7"/>
<line x1="302.4" y1="757.7" x2="307" y2="757.7" stroke="#000" stroke-width="1.6"/>
<rect x="295.5" y="764.6" width="18.3" height="33.1" fill="#fde0e1" stroke="#000" stroke-width="2"/>
<line x1="345.7" y1="761.6" x2="345.7" y2="756" stroke="#000" stroke-width="1.7"/>
<line x1="343.4" y1="756.3" x2="348" y2="756.3" stroke="#000" stroke-width="1.6"/>
<rect x="336.5" y="761.8" width="18.3" height="35.9" fill="#f94143" stroke="#000" stroke-width="2"/>
<line x1="387.1" y1="674.5" x2="387.1" y2="654.5" stroke="#000" stroke-width="1.7"/>
<line x1="384.8" y1="654.8" x2="389.4" y2="654.8" stroke="#000" stroke-width="1.6"/>
<rect x="377.9" y="674.7" width="18.3" height="123" fill="#b3f5dc" stroke="#000" stroke-width="2"/>
<line x1="428.1" y1="765.8" x2="428.1" y2="757.9" stroke="#000" stroke-width="1.7"/>
<line x1="425.8" y1="758.2" x2="430.4" y2="758.2" stroke="#000" stroke-width="1.6"/>
<rect x="418.9" y="766" width="18.3" height="31.7" fill="#00f500" stroke="#000" stroke-width="2"/>
<line x1="284.1" y1="617.55" x2="284.1" y2="798.7" stroke="#000" stroke-width="2.1"/>
<line x1="283.1" y1="797.7" x2="450.5" y2="797.7" stroke="#000" stroke-width="2.1"/>
<line x1="278.3" y1="797.7" x2="284.1" y2="797.7" stroke="#000" stroke-width="1.9"/>
<text transform="translate(270.07 802.2) scale(1.0172 1)" font-family="Liberation Serif" font-size="11.600" font-weight="bold" text-anchor="start" fill="#000">0</text>
<line x1="278.3" y1="761.85" x2="284.1" y2="761.85" stroke="#000" stroke-width="1.9"/>
<text transform="translate(270.19 766.38) scale(1.0172 1)" font-family="Liberation Serif" font-size="11.600" font-weight="bold" text-anchor="start" fill="#000">1</text>
<line x1="278.3" y1="726" x2="284.1" y2="726" stroke="#000" stroke-width="1.9"/>
<text transform="translate(270.13 730.53) scale(1.0172 1)" font-family="Liberation Serif" font-size="11.600" font-weight="bold" text-anchor="start" fill="#000">2</text>
<line x1="278.3" y1="690.15" x2="284.1" y2="690.15" stroke="#000" stroke-width="1.9"/>
<text transform="translate(270.01 694.62) scale(1.0172 1)" font-family="Liberation Serif" font-size="11.600" font-weight="bold" text-anchor="start" fill="#000">3</text>
<line x1="278.3" y1="654.3" x2="284.1" y2="654.3" stroke="#000" stroke-width="1.9"/>
<text transform="translate(269.84 658.83) scale(1.0172 1)" font-family="Liberation Serif" font-size="11.600" font-weight="bold" text-anchor="start" fill="#000">4</text>
<line x1="278.3" y1="618.45" x2="284.1" y2="618.45" stroke="#000" stroke-width="1.9"/>
<text transform="translate(270.01 622.89) scale(1.0172 1)" font-family="Liberation Serif" font-size="11.600" font-weight="bold" text-anchor="start" fill="#000">5</text>
<line x1="304.7" y1="797.7" x2="304.7" y2="803.5" stroke="#000" stroke-width="1.9"/>
<text transform="translate(309.29 813.11) scale(1.1485 1) rotate(-45)" font-family="Liberation Serif" font-size="11.001" font-weight="bold" text-anchor="end" fill="#000">NC</text>
<line x1="345.5" y1="797.7" x2="345.5" y2="803.5" stroke="#000" stroke-width="1.9"/>
<text transform="translate(350.09 813.11) scale(1.1485 1) rotate(-45)" font-family="Liberation Serif" font-size="11.001" font-weight="bold" text-anchor="end" fill="#000">HF</text>
<line x1="386.5" y1="797.7" x2="386.5" y2="803.5" stroke="#000" stroke-width="1.9"/>
<text transform="translate(391.09 813.11) scale(1.1485 1) rotate(-45)" font-family="Liberation Serif" font-size="11.001" font-weight="bold" text-anchor="end" fill="#000">HF+FENO</text>
<line x1="428.1" y1="797.7" x2="428.1" y2="803.5" stroke="#000" stroke-width="1.9"/>
<text transform="translate(432.69 813.11) scale(1.1485 1) rotate(-45)" font-family="Liberation Serif" font-size="11.001" font-weight="bold" text-anchor="end" fill="#000">HF+CS</text>
<path d="M304.2 743.5V739.5H344.7V743.5" fill="none" stroke="#5a5a5a" stroke-width="1"/>
<path d="M345.4 645.9V642.9H390.4V645.9" fill="none" stroke="#5a5a5a" stroke-width="1"/>
<path d="M344.4 630.7V625.9H428.5V630.7" fill="none" stroke="#5a5a5a" stroke-width="1"/>
<polygon points="360.5,635.55 361.18,637.37 363.12,637.45 361.59,638.66 362.12,640.52 360.5,639.45 358.88,640.52 359.41,638.66 357.88,637.45 359.82,637.37" fill="#111"/>
<polygon points="367.6,635.55 368.28,637.37 370.22,637.45 368.69,638.66 369.22,640.52 367.6,639.45 365.98,640.52 366.51,638.66 364.98,637.45 366.92,637.37" fill="#111"/>
<polygon points="374.7,635.55 375.38,637.37 377.32,637.45 375.79,638.66 376.32,640.52 374.7,639.45 373.08,640.52 373.61,638.66 372.08,637.45 374.02,637.37" fill="#111"/>
<text transform="translate(317.4 736.87) scale(1.0414 1)" font-family="Liberation Sans" font-size="13.273" font-weight="normal" text-anchor="start" fill="#111" stroke="#111" stroke-width="0.350">ns</text>
<text transform="translate(383.09 621.87) scale(1.0638 1)" font-family="Liberation Sans" font-size="13.091" font-weight="normal" text-anchor="start" fill="#111" stroke="#111" stroke-width="0.350">ns</text>
<text transform="translate(259.95 783.69) rotate(-90) scale(0.8975 1)" font-family="Liberation Sans" font-size="13.583" font-weight="bold" text-anchor="start" fill="#000">PPARα mRNA expression</text>
<text transform="translate(249.67 610.26) scale(1.2678 1)" font-family="Liberation Sans" font-size="16.400" font-weight="bold" text-anchor="start" fill="#000">g</text>
<line x1="544.55" y1="749.1" x2="544.55" y2="737.8" stroke="#000" stroke-width="1.7"/>
<line x1="542.25" y1="738.1" x2="546.85" y2="738.1" stroke="#000" stroke-width="1.6"/>
<rect x="535.6" y="749.3" width="17.8" height="52.6" fill="#fde0e1" stroke="#000" stroke-width="2"/>
<line x1="584.4" y1="780.5" x2="584.4" y2="772.1" stroke="#000" stroke-width="1.7"/>
<line x1="582.1" y1="772.4" x2="586.7" y2="772.4" stroke="#000" stroke-width="1.6"/>
<rect x="575.6" y="780.7" width="17.5" height="21.2" fill="#f94143" stroke="#000" stroke-width="2"/>
<line x1="624.2" y1="674.6" x2="624.2" y2="663.8" stroke="#000" stroke-width="1.7"/>
<line x1="621.9" y1="664.1" x2="626.5" y2="664.1" stroke="#000" stroke-width="1.6"/>
<rect x="615.1" y="674.8" width="18.1" height="127.1" fill="#b3f5dc" stroke="#000" stroke-width="2"/>
<line x1="664.05" y1="711.4" x2="664.05" y2="701.9" stroke="#000" stroke-width="1.7"/>
<line x1="661.75" y1="702.2" x2="666.35" y2="702.2" stroke="#000" stroke-width="1.6"/>
<rect x="655.3" y="711.6" width="17.4" height="90.3" fill="#00f500" stroke="#000" stroke-width="2"/>
<line x1="525.2" y1="633.2" x2="525.2" y2="802.9" stroke="#000" stroke-width="2.1"/>
<line x1="524.2" y1="801.9" x2="685" y2="801.9" stroke="#000" stroke-width="2.1"/>
<line x1="519.4" y1="801.9" x2="525.2" y2="801.9" stroke="#000" stroke-width="1.9"/>
<text transform="translate(510.77 806.33) scale(1.0351 1)" font-family="Liberation Serif" font-size="11.400" font-weight="bold" text-anchor="start" fill="#000">0</text>
<line x1="519.4" y1="768.34" x2="525.2" y2="768.34" stroke="#000" stroke-width="1.9"/>
<text transform="translate(510.83 772.8) scale(1.0351 1)" font-family="Liberation Serif" font-size="11.400" font-weight="bold" text-anchor="start" fill="#000">2</text>
<line x1="519.4" y1="734.78" x2="525.2" y2="734.78" stroke="#000" stroke-width="1.9"/>
<text transform="translate(510.54 739.24) scale(1.0351 1)" font-family="Liberation Serif" font-size="11.400" font-weight="bold" text-anchor="start" fill="#000">4</text>
<line x1="519.4" y1="701.22" x2="525.2" y2="701.22" stroke="#000" stroke-width="1.9"/>
<text transform="translate(510.65 705.63) scale(1.0351 1)" font-family="Liberation Serif" font-size="11.400" font-weight="bold" text-anchor="start" fill="#000">6</text>
<line x1="519.4" y1="667.66" x2="525.2" y2="667.66" stroke="#000" stroke-width="1.9"/>
<text transform="translate(510.71 672.09) scale(1.0351 1)" font-family="Liberation Serif" font-size="11.400" font-weight="bold" text-anchor="start" fill="#000">8</text>
<line x1="519.4" y1="634.1" x2="525.2" y2="634.1" stroke="#000" stroke-width="1.9"/>
<text transform="translate(504.87 638.53) scale(1.0351 1)" font-family="Liberation Serif" font-size="11.400" font-weight="bold" text-anchor="start" fill="#000">10</text>
<line x1="544.6" y1="801.9" x2="544.6" y2="807.7" stroke="#000" stroke-width="1.9"/>
<text transform="translate(549.05 816.22) scale(1.1915 1) rotate(-45)" font-family="Liberation Serif" font-size="10.397" font-weight="bold" text-anchor="end" fill="#000">NC</text>
<line x1="584.3" y1="801.9" x2="584.3" y2="807.7" stroke="#000" stroke-width="1.9"/>
<text transform="translate(588.75 816.22) scale(1.1915 1) rotate(-45)" font-family="Liberation Serif" font-size="10.397" font-weight="bold" text-anchor="end" fill="#000">HF</text>
<line x1="624.2" y1="801.9" x2="624.2" y2="807.7" stroke="#000" stroke-width="1.9"/>
<text transform="translate(628.65 816.22) scale(1.1915 1) rotate(-45)" font-family="Liberation Serif" font-size="10.397" font-weight="bold" text-anchor="end" fill="#000">HF+FENO</text>
<line x1="664.2" y1="801.9" x2="664.2" y2="807.7" stroke="#000" stroke-width="1.9"/>
<text transform="translate(668.65 816.22) scale(1.1915 1) rotate(-45)" font-family="Liberation Serif" font-size="10.397" font-weight="bold" text-anchor="end" fill="#000">HF+CS</text>
<path d="M543.3 729.6V725.5H585.6V729.6" fill="none" stroke="#9a9a9a" stroke-width="1.3"/>
<path d="M585.1 653.6V650H622.3V653.6" fill="none" stroke="#9a9a9a" stroke-width="1.3"/>
<path d="M584.3 639.3V637.7H664.3V639.3" fill="none" stroke="#9a9a9a" stroke-width="1.3"/>
<polygon points="599,643.95 599.68,645.77 601.62,645.85 600.09,647.06 600.62,648.92 599,647.85 597.38,648.92 597.91,647.06 596.38,645.85 598.32,645.77" fill="#111"/>
<polygon points="605.6,643.95 606.28,645.77 608.22,645.85 606.69,647.06 607.22,648.92 605.6,647.85 603.98,648.92 604.51,647.06 602.98,645.85 604.92,645.77" fill="#111"/>
<polygon points="612.2,643.95 612.88,645.77 614.82,645.85 613.29,647.06 613.82,648.92 612.2,647.85 610.58,648.92 611.11,647.06 609.58,645.85 611.52,645.77" fill="#111"/>
<polygon points="616.5,632.05 617.18,633.87 619.12,633.95 617.59,635.16 618.12,637.02 616.5,635.95 614.88,637.02 615.41,635.16 613.88,633.95 615.82,633.87" fill="#111"/>
<polygon points="623.1,632.05 623.78,633.87 625.72,633.95 624.19,635.16 624.72,637.02 623.1,635.95 621.48,637.02 622.01,635.16 620.48,633.95 622.42,633.87" fill="#111"/>
<polygon points="629.7,632.05 630.38,633.87 632.32,633.95 630.79,635.16 631.32,637.02 629.7,635.95 628.08,637.02 628.61,635.16 627.08,633.95 629.02,633.87" fill="#111"/>
<text transform="translate(560.63 723.89) scale(1.2286 1)" font-family="Liberation Sans" font-size="10.909" font-weight="normal" text-anchor="start" fill="#111" stroke="#111" stroke-width="0.350">ns</text>
<text transform="translate(494.9 784.56) rotate(-90) scale(0.8280 1)" font-family="Liberation Sans" font-size="13.797" font-weight="bold" text-anchor="start" fill="#000">CPT1 mRNA expression</text>
<text transform="translate(481.69 628.9) scale(1.3319 1)" font-family="Liberation Sans" font-size="15.172" font-weight="bold" text-anchor="start" fill="#000">h</text>
</svg>
</body></html>
